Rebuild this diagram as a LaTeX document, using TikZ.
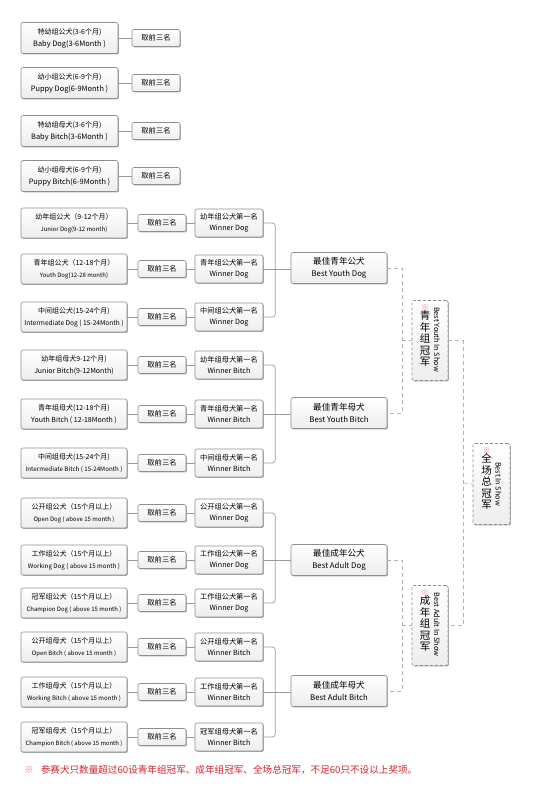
\documentclass[tikz,border=0pt]{standalone}
\usepackage{fontspec}
\setmainfont{Noto Sans CJK SC}
\usetikzlibrary{shadows,calc}
\definecolor{bordergray}{HTML}{8E8E8E}
\definecolor{linegray}{HTML}{9A9A9A}
\definecolor{dashgray}{HTML}{B4B4B4}
\definecolor{notered}{HTML}{D9202A}
\definecolor{markred}{HTML}{F08080}
\newcommand{\cnf}[1]{\fontsize{#1}{12}\selectfont}
\begin{document}
\begin{tikzpicture}[x=1pt,y=-1pt,
  box/.style={draw=bordergray, line width=0.6pt, rounded corners=2pt,
    top color=white, bottom color=gray!14, align=center, inner sep=0pt,
    drop shadow={shadow xshift=0.9pt, shadow yshift=-0.9pt, opacity=0.35, fill=black}},
  tbox/.style={box, minimum width=97pt, minimum height=31pt, font=\cnf{7}},
  lbox/.style={box, minimum width=106pt, minimum height=30pt, font=\cnf{7}},
  rbox/.style={box, minimum width=48pt, minimum height=17pt, font=\cnf{7.3}},
  wbox/.style={box, minimum width=68pt, minimum height=28pt, font=\fontsize{7.2}{10.5}\selectfont},
  bbox/.style={box, minimum width=96pt, minimum height=31pt, font=\fontsize{8.6}{12.5}\selectfont},
  sbox/.style={box, dashed, dash pattern=on 3pt off 2pt, minimum width=36pt, minimum height=80pt},
  conn/.style={draw=linegray, line width=0.7pt},
  dconn/.style={draw=dashgray, line width=0.7pt, dash pattern=on 4pt off 3pt},
  cncol/.style={align=center, inner sep=0pt, font=\fontsize{10.5}{11.5}\selectfont, anchor=north},
  encol/.style={rotate=-90, inner sep=0pt, font=\fontsize{7.3}{8}\selectfont}
]
\useasboundingbox (0,0) rectangle (546,801);
\fill[white] (0,0) rectangle (546,801);

% ---------- top four rows ----------
\node[tbox] (T1) at (69.5,38)  {特幼组公犬(3-6个月)\\{\fontsize{7.4}{12}\selectfont Baby Dog(3-6Month )}};
\node[tbox] (T2) at (69.5,83)  {幼小组公犬(6-9个月)\\{\fontsize{7.4}{12}\selectfont Puppy Dog(6-9Month )}};
\node[tbox] (T3) at (69.5,131) {特幼组母犬(3-6个月)\\{\fontsize{7.4}{12}\selectfont Baby Bitch(3-6Month )}};
\node[tbox] (T4) at (69.5,176) {幼小组母犬(6-9个月)\\{\fontsize{7.4}{12}\selectfont Puppy Bitch(6-9Month )}};
\node[rbox] (TR1) at (156,38)  {取前三名};
\node[rbox] (TR2) at (156,83)  {取前三名};
\node[rbox] (TR3) at (156,131) {取前三名};
\node[rbox] (TR4) at (156,176) {取前三名};
\foreach \i in {1,...,4} { \draw[conn] (T\i) -- (TR\i); }

% ---------- twelve rows ----------
\node[lbox] (L1)  at (74,223) {幼年组公犬（9-12个月）\\{\fontsize{6}{11}\selectfont Junior Dog(9-12 month)}};
\node[lbox] (L2)  at (74,269) {青年组公犬（12-18个月）\\{\fontsize{6}{11}\selectfont Youth Dog(12-28 month)}};
\node[lbox] (L3)  at (74,317) {中间组公犬(15-24个月)\\{\fontsize{6.6}{11}\selectfont Intermediate Dog ( 15-24Month )}};
\node[lbox] (L4)  at (74,365) {幼年组母犬9-12个月)\\{\fontsize{7}{11}\selectfont Junior Bitch(9-12Month)}};
\node[lbox] (L5)  at (74,414) {青年组母犬(12-18个月)\\{\fontsize{7}{11}\selectfont Youth Bitch ( 12-18Month )}};
\node[lbox] (L6)  at (74,463) {中间组母犬(15-24个月)\\{\fontsize{6.2}{11}\selectfont Intermediate Bitch ( 15-24Month )}};
\node[lbox] (L7)  at (74,513) {公开组公犬（15个月以上）\\{\fontsize{6}{11}\selectfont Open Dog ( above 15 month )}};
\node[lbox] (L8)  at (74,560) {工作组公犬（15个月以上）\\{\fontsize{6.2}{11}\selectfont Working Dog ( above 15 month )}};
\node[lbox] (L9)  at (74,603) {冠军组公犬（15个月以上）\\{\fontsize{6}{11}\selectfont Champion Dog ( above 15 month )}};
\node[lbox] (L10) at (74,647) {公开组母犬（15个月以上）\\{\fontsize{6}{11}\selectfont Open Bitch ( above 15 month )}};
\node[lbox] (L11) at (74,692) {工作组母犬（15个月以上）\\{\fontsize{6.1}{11}\selectfont Working Bitch ( above 15 month )}};
\node[lbox] (L12) at (74,737) {冠军组母犬（15个月以上）\\{\fontsize{5.9}{11}\selectfont Champion Bitch ( above 15 month )}};

\foreach \i/\y in {1/223,2/269,3/317,4/365,5/414,6/463,7/513,8/560,9/603,10/647,11/692,12/737} {
  \node[rbox] (R\i) at (162,\y) {取前三名};
}

\node[wbox] (W1)  at (229,223) {幼年组公犬第一名\\Winner Dog};
\node[wbox] (W2)  at (229,269) {青年组公犬第一名\\Winner Dog};
\node[wbox] (W3)  at (229,317) {中间组公犬第一名\\Winner Dog};
\node[wbox] (W4)  at (229,365) {幼年组母犬第一名\\Winner Bitch};
\node[wbox] (W5)  at (229,414) {青年组母犬第一名\\Winner Bitch};
\node[wbox] (W6)  at (229,463) {中间组母犬第一名\\Winner Bitch};
\node[wbox] (W7)  at (229,513) {公开组公犬第一名\\Winner Dog};
\node[wbox] (W8)  at (229,560) {工作组公犬第一名\\Winner Dog};
\node[wbox] (W9)  at (229,603) {工作组公犬第一名\\Winner Dog};
\node[wbox] (W10) at (229,647) {公开组母犬第一名\\Winner Bitch};
\node[wbox] (W11) at (229,692) {工作组母犬第一名\\Winner Bitch};
\node[wbox] (W12) at (229,737) {冠军组母犬第一名\\Winner Bitch};

\foreach \i in {1,...,12} { \draw[conn] (L\i) -- (R\i); \draw[conn] (R\i) -- (W\i); }

% ---------- best boxes ----------
\node[bbox] (B1) at (339,268) {最佳青年公犬\\{\fontsize{7.8}{12.5}\selectfont Best Youth Dog}};
\node[bbox] (B2) at (339,413) {最佳青年母犬\\{\fontsize{7.8}{12.5}\selectfont Best Youth Bitch}};
\node[bbox] (B3) at (339,560) {最佳成年公犬\\{\fontsize{7.8}{12.5}\selectfont Best Adult Dog}};
\node[bbox] (B4) at (339,691) {最佳成年母犬\\{\fontsize{7.8}{12.5}\selectfont Best Adult Bitch}};

% brackets
\draw[conn, rounded corners=3pt] (W1.east) -| ([xshift=12pt]W2.east) |- (W3.east);
\draw[conn, rounded corners=3pt] (W4.east) -| ([xshift=12pt]W5.east) |- (W6.east);
\draw[conn, rounded corners=3pt] (W7.east) -| ([xshift=12pt]W8.east) |- (W9.east);
\draw[conn, rounded corners=3pt] (W10.east) -| ([xshift=12pt]W11.east) |- (W12.east);
\draw[conn] (W2.east) -- (W2.east -| B1.west);
\draw[conn] (W5.east) -- (W5.east -| B2.west);
\draw[conn] (W8.east) -- (B3.west);
\draw[conn] (W11.east) -- (W11.east -| B4.west);

% ---------- show boxes ----------
\node[sbox] (Y) at (430,340.5) {};
\node[sbox] (A) at (430,625.5) {};
\node[sbox, minimum width=37pt, minimum height=81pt] (S) at (491.5,484) {};

\node[cncol] (Yc) at ($(Y.north)+(-5,4)$) {{\color{markred}\fontsize{8}{8}\selectfont ※}\\[-2pt]青\\年\\组\\冠\\军};
\node[encol] (Ye) at ($(Y.center)+(7,-1)$) {Best Youth In Show};
\node[cncol] (Ac) at ($(A.north)+(-5,4)$) {{\color{markred}\fontsize{8}{8}\selectfont ※}\\[-2pt]成\\年\\组\\冠\\军};
\node[encol] (Ae) at ($(A.center)+(7,-1)$) {Best Adult In Show};
\node[cncol] (Sc) at ($(S.north)+(-5,4)$) {{\color{markred}\fontsize{8}{8}\selectfont ※}\\[-2pt]全\\场\\总\\冠\\军};
\node[encol] (Se) at ($(S.center)+(7,0)$) {Best In Show};

% dashed connectors
\draw[dconn] (B1.east) -- ++(15,0) |- (B2.east);
\draw[dconn] ($(B1.east)!.5!(B2.east)+(15,0)$) -- (Y.west);
\draw[dconn] (B3.east) -- ++(15,0) |- (B4.east);
\draw[dconn] ($(B3.east)!.5!(B4.east)+(15,0)$) -- (A.west);
\draw[dconn] (Y.east) -- ++(15,0) |- (A.east);
\draw[dconn] ($(Y.east)!.5!(A.east)+(15,0)$) -- (S.west);

% ---------- note ----------
\node[anchor=west, inner sep=0pt, font=\fontsize{9.6}{12}\selectfont] (note) at (24,770)
  {{\color{markred}※}\hspace{7pt}{\color{notered}参赛犬只数量超过60设青年组冠军、成年组冠军、全场总冠军，不足60只不设以上奖项。}};
\end{tikzpicture}
\end{document}
